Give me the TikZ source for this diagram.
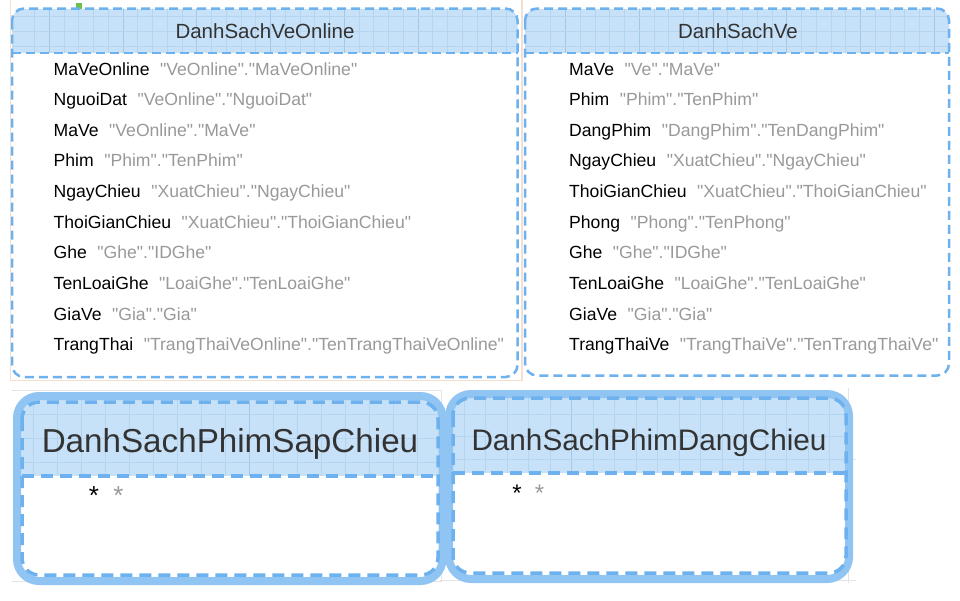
\documentclass[tikz,border=0pt]{standalone}
\usepackage{fontspec}
\setmainfont{Liberation Sans}[Ligatures=TeXOff]
\definecolor{dashblue}{HTML}{6DB1EF}
\definecolor{hdrfill}{HTML}{C6E1F8}
\definecolor{gridc}{HTML}{B5D4EF}
\definecolor{gridmaj}{HTML}{A3C7E6}
\definecolor{bandc}{HTML}{90C4F3}
\definecolor{graytxt}{HTML}{999999}
\definecolor{titletxt}{HTML}{333333}
\definecolor{peach}{HTML}{F6DFCF}
\definecolor{greenbit}{HTML}{6CC04A}
\definecolor{faintgray}{HTML}{E4E4E4}
\begin{document}
\begin{tikzpicture}[x=1pt,y=-1pt,
  tbl/.style={draw=dashblue, line width=2.5pt, dash pattern=on 9pt off 5pt, rounded corners=12pt},
  sepline/.style={draw=dashblue, line width=2.5pt, dash pattern=on 9pt off 5pt},
  band/.style={draw=bandc, line width=8pt, rounded corners=22pt},
  bigdash/.style={draw=dashblue, line width=3.5pt, dash pattern=on 12pt off 7pt},
  rowtxt/.style={anchor=base west, inner sep=0pt, text=black, font=\fontsize{17.6}{20}\selectfont},
  ttl/.style={anchor=base, inner sep=0pt, text=titletxt},
  startxt/.style={anchor=base, inner sep=0pt},
  gmin/.style={draw=gridc, line width=0.6pt},
  gmaj/.style={draw=gridmaj, line width=0.8pt}]
\useasboundingbox (0,0) rectangle (960,600);
\fill[white] (0,0) rectangle (960,600);

% faint outlines
\draw[peach, line width=1.2pt] (10.5,-2) -- (10.5,380.5) -- (522,380.5) -- (522,-2);
\draw[faintgray, line width=1pt] (12,390.7) -- (441.7,390.7) -- (441.7,581.7) -- (12,581.7);
\draw[faintgray, line width=1pt] (848,388) -- (848,583);
\draw[faintgray, line width=1pt] (840,459) -- (856,459);
\draw[faintgray, line width=1pt] (440,580) -- (856,580);
\fill[greenbit] (76,3) rectangle (82,9);

% ---------- Box 1: DanhSachVeOnline ----------
\begin{scope}
\clip[rounded corners=12pt] (12,8.5) rectangle (517.5,377);
\fill[white] (12,8.5) rectangle (517.5,377);
\fill[hdrfill] (12,8.5) rectangle (517.5,53);
\foreach \k in {0,...,34} {\pgfmathsetmacro\xx{34.5+14.75*\k}\draw[gmin] (\xx,0) -- (\xx,53);}
\foreach \k in {0,...,6} {\pgfmathsetmacro\xx{49.25+73.75*\k}\draw[gmaj] (\xx,0) -- (\xx,53);}
\foreach \yy in {16.75,31.5,46.25} {\draw[gmin] (0,\yy) -- (520,\yy);}
\end{scope}
\draw[tbl] (12,8.5) rectangle (517.5,377);
\draw[sepline] (12,53) -- (517.5,53);
\node[ttl, font=\fontsize{20.5}{24}\selectfont] (t1) at (265,38.5) {DanhSachVeOnline};
\foreach \n/\a/\b [count=\i from 0] in {
  MaVeOnline/VeOnline/MaVeOnline,
  NguoiDat/VeOnline/NguoiDat,
  MaVe/VeOnline/MaVe,
  Phim/Phim/TenPhim,
  NgayChieu/XuatChieu/NgayChieu,
  ThoiGianChieu/XuatChieu/ThoiGianChieu,
  Ghe/Ghe/IDGhe,
  TenLoaiGhe/LoaiGhe/TenLoaiGhe,
  GiaVe/Gia/Gia,
  TrangThai/TrangThaiVeOnline/TenTrangThaiVeOnline}
  {\node[rowtxt] (ra\i) at (53.5,75+30.63*\i) {\n\hspace{10.5pt}\textcolor{graytxt}{"\a"."\b"}};}

% ---------- Box 2: DanhSachVe ----------
\begin{scope}
\clip[rounded corners=12pt] (525,8.5) rectangle (949,375.5);
\fill[white] (525,8.5) rectangle (949,375.5);
\fill[hdrfill] (525,8.5) rectangle (949,53);
\foreach \k in {35,...,64} {\pgfmathsetmacro\xx{34.5+14.75*\k}\draw[gmin] (\xx,0) -- (\xx,53);}
\foreach \k in {7,...,12} {\pgfmathsetmacro\xx{49.25+73.75*\k}\draw[gmaj] (\xx,0) -- (\xx,53);}
\foreach \yy in {16.75,31.5,46.25} {\draw[gmin] (520,\yy) -- (960,\yy);}
\end{scope}
\draw[tbl] (525,8.5) rectangle (949,375.5);
\draw[sepline] (525,53) -- (949,53);
\node[ttl, font=\fontsize{20.5}{24}\selectfont] (t2) at (738,38.5) {DanhSachVe};
\foreach \n/\a/\b [count=\i from 0] in {
  MaVe/Ve/MaVe,
  Phim/Phim/TenPhim,
  DangPhim/DangPhim/TenDangPhim,
  NgayChieu/XuatChieu/NgayChieu,
  ThoiGianChieu/XuatChieu/ThoiGianChieu,
  Phong/Phong/TenPhong,
  Ghe/Ghe/IDGhe,
  TenLoaiGhe/LoaiGhe/TenLoaiGhe,
  GiaVe/Gia/Gia,
  TrangThaiVe/TrangThaiVe/TenTrangThaiVe}
  {\node[rowtxt] (rb\i) at (569,75+30.63*\i) {\n\hspace{10.5pt}\textcolor{graytxt}{"\a"."\b"}};}

% ---------- Box 3: DanhSachPhimSapChieu ----------
\begin{scope}
\clip[rounded corners=22pt] (17,396) rectangle (442.5,581);
\fill[white] (17,396) rectangle (442.5,581);
\fill[hdrfill] (17,396) rectangle (442.5,476);
\foreach \k in {-9,...,8} {\pgfmathsetmacro\xx{249+24*\k}\draw[gmin] (\xx,390) -- (\xx,476);}
\draw[gmaj] (249,390) -- (249,476);
\foreach \yy in {414,438.3,462.5} {\draw[gmin] (10,\yy) -- (450,\yy);}
\end{scope}
\draw[band] (17,396) rectangle (442.5,581);
\draw[bigdash, rounded corners=17pt] (22,402) rectangle (438,575);
\draw[bigdash] (22,476) -- (438,476);
\node[ttl, font=\fontsize{33.2}{38}\selectfont] (t3) at (230,452.5) {DanhSachPhimSapChieu};
\node[startxt, text=black, font=\fontsize{26}{30}\selectfont] (s3a) at (94,504) {*};
\node[startxt, text=graytxt, font=\fontsize{26}{30}\selectfont] (s3b) at (118.5,504) {*};

% ---------- Box 4: DanhSachPhimDangChieu ----------
\begin{scope}
\clip[rounded corners=22pt] (449,394) rectangle (849,579);
\fill[white] (449,394) rectangle (849,579);
\fill[hdrfill] (449,394) rectangle (849,473);
\foreach \k in {-6,...,13} {\pgfmathsetmacro\xx{571.7+21.5*\k}\draw[gmin] (\xx,388) -- (\xx,473);}
\draw[gmaj] (571.7,388) -- (571.7,473);
\foreach \yy in {414.5,436.7,459.3} {\draw[gmin] (440,\yy) -- (860,\yy);}
\end{scope}
\draw[band] (449,394) rectangle (849,579);
\draw[bigdash, rounded corners=17pt] (453,398) rectangle (846,573);
\draw[bigdash] (453,473) -- (846,473);
\node[ttl, font=\fontsize{29.7}{34}\selectfont] (t4) at (649,450) {DanhSachPhimDangChieu};
\node[startxt, text=black, font=\fontsize{24}{28}\selectfont] (s4a) at (517,501.5) {*};
\node[startxt, text=graytxt, font=\fontsize{24}{28}\selectfont] (s4b) at (539.5,501.5) {*};
\end{tikzpicture}
\end{document}
